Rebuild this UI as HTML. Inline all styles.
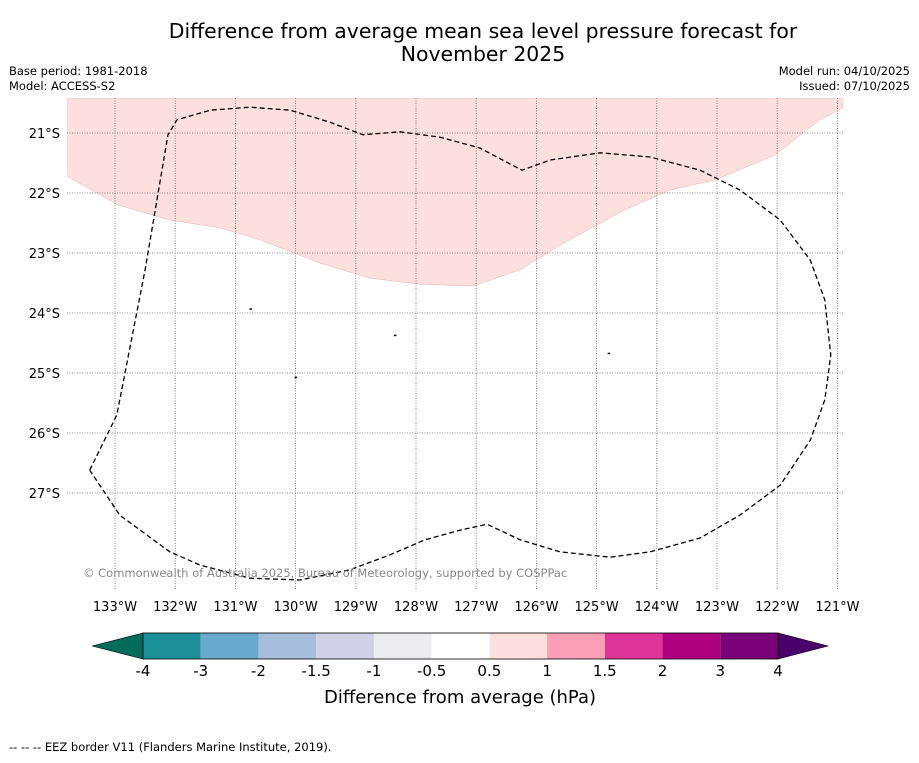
<!DOCTYPE html>
<html><head><meta charset="utf-8"><style>
body{margin:0;background:#fff;width:919px;height:758px;overflow:hidden;font-family:"Liberation Sans","DejaVu Sans",sans-serif;}
svg text{font-family:"DejaVu Sans","Liberation Sans",sans-serif;}
</style></head><body>
<svg id="c" width="919" height="758">
<text x="483" y="38" text-anchor="middle" font-size="20.4">Difference from average mean sea level pressure forecast for</text>
<text x="483" y="61" text-anchor="middle" font-size="20.4">November 2025</text>
<text x="9" y="75" font-size="11.5">Base period: 1981-2018</text>
<text x="9" y="90" font-size="11.5">Model: ACCESS-S2</text>
<text x="910" y="75" font-size="11.5" text-anchor="end">Model run: 04/10/2025</text>
<text x="910" y="90" font-size="11.5" text-anchor="end">Issued: 07/10/2025</text>
<g id="map"></g>
<g id="cb"></g>
<text x="460" y="703" text-anchor="middle" font-size="18">Difference from average (hPa)</text>
<text x="9" y="751" font-size="11.5">--  --  -- EEZ border V11 (Flanders Marine Institute, 2019).</text>
</svg>
<script>
const lonTicks=[-133,-132,-131,-130,-129,-128,-127,-126,-125,-124,-123,-122,-121];
const latTicks=[-21,-22,-23,-24,-25,-26,-27];
const pinkLon=[-133.80,-132.95,-132.09,-131.26,-130.59,-129.59,-128.76,-127.93,-127.05,-126.27,-125.61,-124.53,-123.78,-123.03,-122.04,-121.29,-120.91];
const pinkLat=[-21.72,-22.2,-22.45,-22.58,-22.78,-23.17,-23.42,-23.52,-23.55,-23.28,-22.87,-22.28,-21.95,-21.78,-21.37,-20.78,-20.58];
const eezLon=[-133.42,-132.97,-132.50,-132.12,-131.97,-131.42,-130.76,-130.09,-129.43,-128.88,-128.27,-127.60,-126.94,-126.24,-125.77,-124.94,-124.11,-123.28,-122.62,-121.95,-121.45,-121.21,-121.11,-121.21,-121.45,-121.95,-122.62,-123.28,-124.11,-124.78,-125.61,-126.27,-126.82,-127.27,-127.85,-128.43,-129.10,-129.93,-130.76,-131.59,-132.09,-132.92,-133.42];
const eezLat=[-26.62,-25.70,-23.28,-21.03,-20.78,-20.62,-20.57,-20.62,-20.82,-21.03,-20.98,-21.07,-21.25,-21.62,-21.45,-21.33,-21.40,-21.62,-21.95,-22.45,-23.12,-23.78,-24.70,-25.45,-26.12,-26.87,-27.37,-27.75,-27.98,-28.07,-27.98,-27.78,-27.52,-27.62,-27.78,-28.03,-28.28,-28.45,-28.42,-28.20,-27.98,-27.37,-26.62];
const islandLon=[-130.75,-128.35,-124.8,-130.0];
const islandLat=[-23.93,-24.37,-24.67,-25.07];
const cbLabels=["-4","-3","-2","-1.5","-1","-0.5","0.5","1","1.5","2","3","4"];
const cbColors=["#1b9098","#67a9cf","#a6bddb","#d0d1e6","#ececf0","#ffffff","#fde0dd","#fa9fb5","#dd3497","#ae017e","#7a0177"];
const NS="http://www.w3.org/2000/svg";
const X0=67,X1=843,Y0=98,Y1=590;
const sx=lon=>115+(lon+133)*60.2;
const sy=lat=>133+(-21-lat)*60;
function mk(t,a,p){const e=document.createElementNS(NS,t);for(const k in a)e.setAttribute(k,a[k]);p.appendChild(e);return e;}
const map=document.getElementById('map');
const cp=mk('clipPath',{id:'cl'},map);mk('rect',{x:X0,y:Y0,width:X1-X0,height:Y1-Y0},cp);
const g=mk('g',{'clip-path':'url(#cl)'},map);
let d=`M${X0},${Y0}`;pinkLon.forEach((v,i)=>d+=` L${sx(v)},${sy(pinkLat[i])}`);d+=` L${X1},${Y0}Z`;
const pk=mk('path',{d:d,fill:'#fde0dd',stroke:'#e8b0ae','stroke-width':0.5},g);


lonTicks.forEach(v=>{const x=sx(v);
 const l=mk('line',{x1:x,x2:x,y1:Y0,y2:Y1,stroke:'#666','stroke-width':0.8,'stroke-dasharray':'1,1.5'},g);
 
 const t=mk('text',{x:x,y:611,'text-anchor':'middle','font-size':13},map);t.textContent=(-v)+'°W';
 });
latTicks.forEach(v=>{const y=sy(v);
 const l=mk('line',{x1:X0,x2:X1,y1:y,y2:y,stroke:'#666','stroke-width':0.8,'stroke-dasharray':'1,1.5'},g);
 
 const t=mk('text',{x:60,y:y+5,'text-anchor':'end','font-size':13},map);t.textContent=(-v)+'°S';
 });
islandLon.forEach((v,i)=>{const r=mk('rect',{x:sx(v)-1,y:sy(islandLat[i])-0.5,width:2.5,height:1.5,fill:'#000'},g);
 });
let e='';eezLon.forEach((v,i)=>e+=(i?' L':'M')+sx(v)+','+sy(eezLat[i]));
const ez=mk('path',{d:e,fill:'none',stroke:'#000','stroke-width':1.3,'stroke-dasharray':'5,3','stroke-linejoin':'round'},g);

const cr=mk('text',{x:83,y:577,'font-size':11.5,fill:'#888'},map);cr.textContent='© Commonwealth of Australia 2025, Bureau of Meteorology, supported by COSPPac';

const cb=document.getElementById('cb');
const cx0=143,cx1=778,cy0=633,cy1=659,w=(cx1-cx0)/cbColors.length;
const lt=mk('path',{d:`M${cx0},${cy0} L92,646 L${cx0},${cy1}Z`,fill:'#016c59',stroke:'#000','stroke-width':0.6},cb);

const rt=mk('path',{d:`M${cx1},${cy0} L828,646 L${cx1},${cy1}Z`,fill:'#49006a',stroke:'#000','stroke-width':0.6},cb);

cbColors.forEach((c,i)=>{const r=mk('rect',{x:cx0+i*w,y:cy0,width:w,height:cy1-cy0,fill:c},cb);
 });
mk('rect',{x:cx0,y:cy0,width:cx1-cx0,height:cy1-cy0,fill:'none',stroke:'#000','stroke-width':0.8},cb);
cbLabels.forEach((s,i)=>{const t=mk('text',{x:cx0+i*w,y:676,'text-anchor':'middle','font-size':15},cb);t.textContent=s;
 });
</script>
</body></html>
